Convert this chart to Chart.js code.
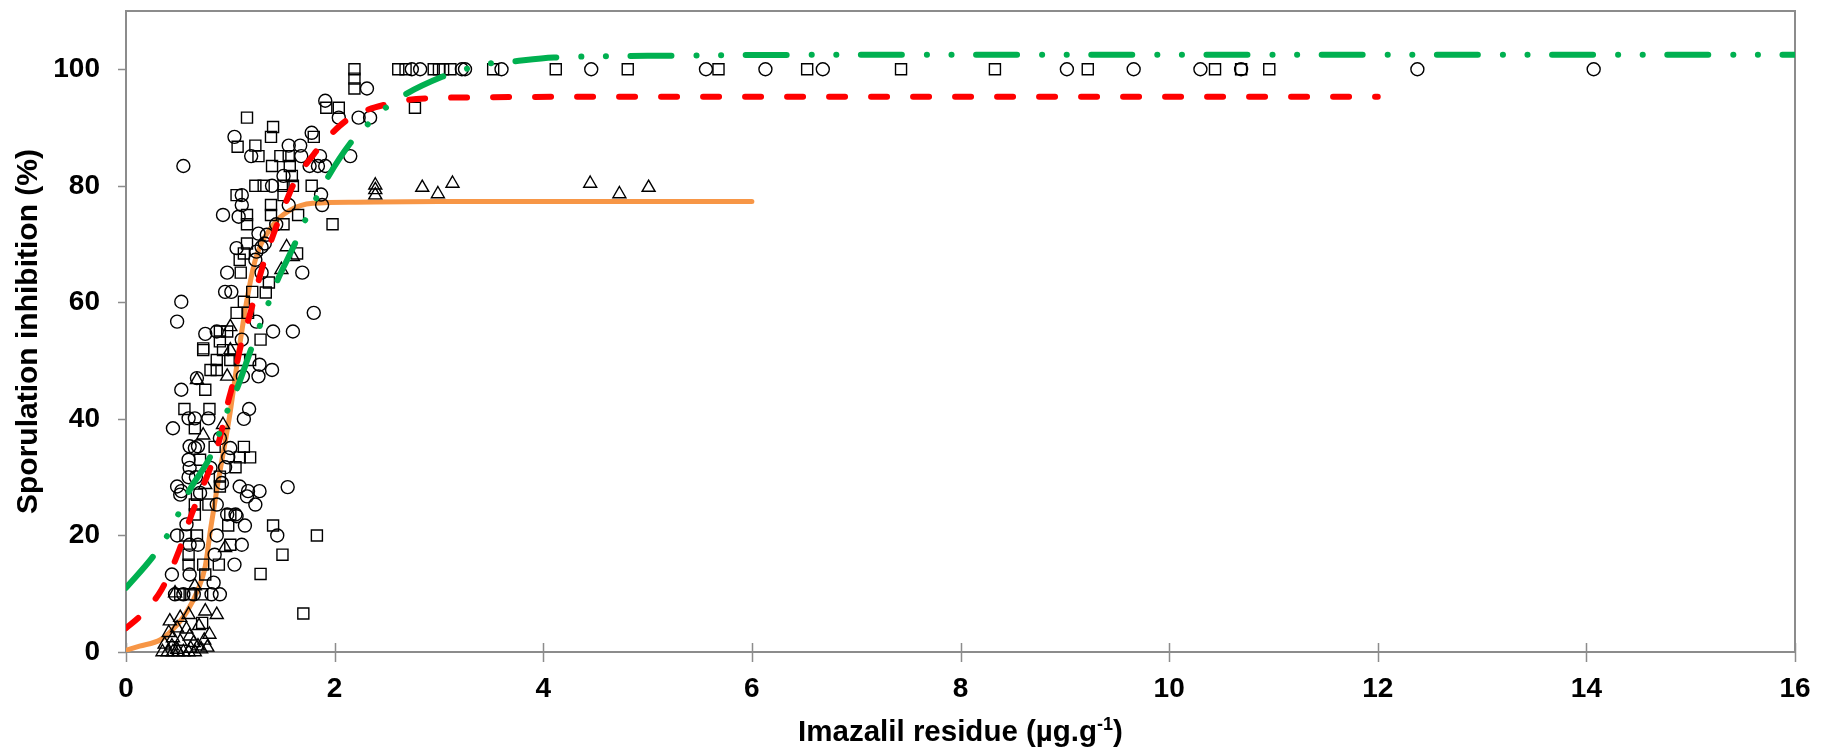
<!DOCTYPE html>
<html>
<head>
<meta charset="utf-8">
<script src="https://cdn.jsdelivr.net/npm/chart.js@4.4.1/dist/chart.umd.min.js"></script>
<style>
  html, body { margin: 0; padding: 0; background: #fff; }
  canvas { display: block; }
</style>
</head>
<body>
<canvas id="chart" width="1822" height="747"></canvas>
<script>
// observed points, [imazalil residue, sporulation inhibition]
const circlePoints = [
  [2.74, 100], [2.82, 100], [3.22, 100], [3.25, 100], [3.60, 100], [4.46, 100], [5.56, 100], [6.13, 100],
  [6.68, 100], [9.02, 100], [9.66, 100], [10.30, 100], [10.69, 100], [12.38, 100], [14.07, 100],
  [2.31, 96.7], [1.91, 94.6], [2.04, 91.7], [2.23, 91.7], [2.34, 91.7],
  [0.55, 83.4], [1.04, 88.4], [1.20, 85.1], [1.56, 86.9], [1.67, 86.9], [1.78, 89.1], [1.68, 85.1], [1.86, 85.1],
  [1.76, 83.4], [1.84, 83.4], [1.91, 83.4], [2.15, 85.1], [1.51, 81.7], [1.40, 80.0], [1.87, 78.5], [1.11, 78.4],
  [0.93, 75.0], [1.08, 74.7], [1.11, 76.7], [1.56, 76.7], [1.88, 76.7], [1.44, 73.4], [1.27, 71.8], [1.35, 71.6],
  [1.33, 70.1], [1.30, 69.5], [1.25, 68.7], [1.06, 69.3], [1.24, 67.3], [0.97, 65.1], [1.30, 65.1], [1.69, 65.1],
  [0.95, 61.8], [1.01, 61.8], [0.53, 60.1], [1.80, 58.2], [0.49, 56.7], [1.25, 56.7], [0.76, 54.6], [0.87, 55.0],
  [1.41, 55.0], [1.60, 55.0], [1.11, 53.6],
  [1.28, 49.3], [1.40, 48.4], [1.27, 47.3], [1.12, 47.3], [0.68, 47.0], [0.53, 45.0], [0.60, 40.1], [0.66, 40.1],
  [0.79, 40.1], [1.18, 41.7], [1.13, 40.0], [0.45, 38.4], [0.90, 36.7], [0.61, 35.3], [0.66, 35.0], [0.69, 35.3],
  [1.00, 35.0], [0.98, 33.4], [0.60, 33.0], [0.61, 31.6], [0.95, 31.7], [0.81, 31.6], [0.60, 30.0], [0.67, 30.0],
  [0.49, 28.4], [0.53, 27.6], [1.09, 28.4], [1.17, 27.6], [1.28, 27.6], [1.55, 28.3], [0.92, 29.0],
  [0.52, 27.0], [0.71, 27.3], [1.16, 26.7], [1.24, 25.3], [0.87, 25.3], [0.97, 23.6], [1.05, 23.6], [1.06, 23.3],
  [0.58, 21.9], [1.14, 21.7], [1.45, 20.0], [0.49, 20.0], [0.87, 20.0], [0.69, 18.4], [0.61, 18.4], [1.11, 18.4],
  [0.85, 16.7], [1.04, 15.0], [0.44, 13.3], [0.61, 13.3], [0.84, 11.9], [0.47, 9.9], [0.55, 9.9], [0.65, 9.9],
  [0.82, 9.9], [0.90, 9.9],
];

const squarePoints = [
  [2.19, 100], [2.61, 100], [2.68, 100], [2.95, 100], [3.00, 100], [3.04, 100], [3.11, 100], [3.52, 100],
  [4.12, 100], [4.81, 100], [5.68, 100], [6.53, 100], [7.43, 100], [8.33, 100], [9.22, 100], [10.44, 100],
  [10.69, 100], [10.96, 100],
  [2.19, 98.4], [2.19, 96.7], [1.92, 93.4], [2.04, 93.4], [2.77, 93.4],
  [1.16, 91.7], [1.41, 90.1], [1.39, 88.4], [1.07, 86.7], [1.24, 86.9], [1.27, 85.1], [1.80, 88.4], [1.48, 85.1],
  [1.56, 85.1], [1.40, 83.4], [1.57, 83.4], [1.59, 81.7], [1.24, 80.0], [1.32, 80.0], [1.51, 80.0], [1.60, 80.0],
  [1.78, 80.0], [1.06, 78.4], [1.51, 78.4],
  [1.16, 75.0], [1.16, 73.4], [1.39, 76.7], [1.39, 75.0], [1.65, 75.0], [1.98, 73.4], [1.51, 73.4], [1.16, 70.1],
  [1.13, 68.4], [1.09, 67.3], [1.64, 68.4], [1.10, 65.1], [1.37, 63.4], [1.21, 61.8], [1.34, 61.7], [1.13, 60.1],
  [1.06, 58.2], [1.17, 58.2], [0.90, 55.0], [0.97, 55.0], [1.29, 53.6], [0.74, 52.1], [0.90, 53.3],
  [0.74, 51.8], [0.93, 51.8], [1.03, 51.8], [0.87, 50.1], [1.00, 50.1], [1.09, 50.1], [1.19, 50.1], [0.81, 48.4],
  [0.87, 48.4], [0.76, 45.0], [0.56, 41.7], [0.80, 41.7], [0.66, 38.4], [0.85, 35.2], [1.13, 35.2], [1.09, 33.4],
  [1.19, 33.4], [0.71, 33.0], [1.05, 31.7], [0.90, 30.1], [0.90, 28.4],
  [0.68, 27.0], [0.66, 25.3], [0.79, 25.3], [0.66, 23.6], [1.00, 23.6], [0.98, 21.7], [1.41, 21.7], [1.83, 20.0],
  [1.50, 16.7], [1.29, 13.4], [1.70, 6.6], [0.57, 20.0], [0.68, 20.0], [1.00, 18.4], [0.60, 16.7], [0.60, 15.0],
  [0.74, 15.0], [0.89, 15.0], [0.76, 13.3], [0.52, 9.9], [0.61, 9.9], [0.73, 9.9], [0.73, 5.0],
];

const trianglePoints = [
  [2.39, 80.1], [2.39, 79.3], [2.39, 78.4], [2.84, 79.7], [2.99, 78.6], [3.13, 80.4], [4.45, 80.4], [4.73, 78.6],
  [5.01, 79.7],
  [1.54, 69.5], [1.60, 67.8], [1.49, 65.6], [1.00, 55.8], [1.00, 51.8], [0.97, 47.3], [0.68, 46.7], [0.93, 39.0],
  [0.74, 37.2], [0.76, 28.7], [0.95, 17.9], [0.47, 10.1], [0.66, 11.3], [0.42, 5.3], [0.52, 5.9], [0.60, 6.4],
  [0.76, 7.0], [0.87, 6.4], [0.37, 1.3], [0.44, 1.0], [0.49, 0.4], [0.55, 0.0], [0.65, 1.6], [0.69, 1.0],
  [0.66, 0.0], [0.61, 2.7], [0.45, 2.4], [0.41, 3.3], [0.58, 3.9], [0.49, 4.1], [0.40, 0.0], [0.45, 0.0],
  [0.50, 0.0], [0.60, 0.0], [0.72, 0.5], [0.75, 2.0], [0.70, 4.5], [0.80, 3.0], [0.35, 0.0], [0.52, 1.8],
  [0.62, 0.6], [0.78, 0.8],
];

// fitted curves
const orangeCurve = [
  [0, 0.3], [0.13, 1.0], [0.33, 2.1], [0.45, 3.9], [0.58, 6.8], [0.69, 10.7], [0.76, 14.7], [0.81, 21.0],
  [0.87, 27.8], [1.0, 41.3], [1.05, 47.6], [1.09, 52.7], [1.16, 60.5], [1.24, 67.3], [1.41, 73.3], [1.57, 75.8],
  [1.79, 77.0], [2.2, 77.2], [3, 77.3], [6, 77.3],
];

const redCurve = [
  [0, 4.1], [0.15, 6.4], [0.34, 10.7], [0.5, 17.0], [0.61, 22.7], [0.71, 27.3], [0.81, 31.7], [0.9, 36.7],
  [0.98, 43.0], [1.03, 46.4], [1.09, 51.8], [1.2, 58.7], [1.3, 65.6], [1.44, 73.0], [1.54, 77.5], [1.61, 80.4],
  [1.83, 86.1], [1.99, 89.3], [2.12, 91.3], [2.31, 93.0], [2.5, 94.0], [2.69, 94.7], [2.88, 95.0], [3.5, 95.2],
  [5, 95.3], [12, 95.3],
];

const greenCurve = [
  [0, 11.0], [0.26, 16.4], [0.39, 19.8], [0.5, 23.6], [0.61, 27.8], [0.81, 33.6], [0.89, 37.3], [0.97, 41.3],
  [1.06, 45.0], [1.2, 52.0], [1.36, 59.6], [1.44, 63.3], [1.62, 70.1], [1.71, 73.8], [1.92, 81.0], [2.15, 87.3],
  [2.31, 90.4], [2.47, 93.1], [2.66, 95.5], [3.03, 98.7], [3.23, 99.9], [3.45, 100.9], [3.68, 101.3], [4.1, 102.0],
  [5, 102.3], [8, 102.5], [16, 102.5],
];

const xTicks = [0, 2, 4, 6, 8, 10, 12, 14, 16];
const yTicks = [0, 20, 40, 60, 80, 100];

const FONT = "'Liberation Sans', Arial, sans-serif";
const AXIS_GREY = '#8c8c8c';

const toXY = (pts) => pts.map(([x, y]) => ({ x, y }));

const markerSet = (pts, style, radius, order) => ({
  data: toXY(pts),
  pointStyle: style,
  pointRadius: radius,
  pointBorderWidth: 1.4,
  pointBorderColor: '#000',
  pointBackgroundColor: 'rgba(0,0,0,0)',
  showLine: false,
  clip: false,
  order,
});

const curveSet = (pts, color, width, dash, order) => ({
  data: toXY(pts),
  showLine: true,
  pointRadius: 0,
  borderColor: color,
  borderWidth: width,
  borderDash: dash,
  borderCapStyle: 'round',
  cubicInterpolationMode: 'monotone',
  fill: false,
  order,
});

// plot frame, tick marks and the axis titles (x title has a superscript)
const frameAndTitles = {
  id: 'frameAndTitles',
  beforeDatasetsDraw(chart) {
    const { ctx, chartArea: a, scales } = chart;
    ctx.save();
    ctx.strokeStyle = AXIS_GREY;
    ctx.lineWidth = 2;
    ctx.strokeRect(a.left, a.top, a.right - a.left, a.bottom - a.top);
    ctx.lineWidth = 1.5;
    ctx.beginPath();
    xTicks.forEach((v) => {
      const px = Math.round(scales.x.getPixelForValue(v)) + 0.5;
      ctx.moveTo(px, a.bottom - 9);
      ctx.lineTo(px, a.bottom + 10);
    });
    yTicks.forEach((v) => {
      const py = Math.round(scales.y.getPixelForValue(v)) + 0.5;
      ctx.moveTo(a.left - 8, py);
      ctx.lineTo(a.left, py);
    });
    ctx.stroke();
    ctx.restore();
  },
  afterDraw(chart) {
    const { ctx, chartArea: a } = chart;
    ctx.save();
    ctx.fillStyle = '#000';

    // y title
    ctx.font = `bold 30px ${FONT}`;
    ctx.translate(29, (a.top + a.bottom) / 2);
    ctx.rotate(-Math.PI / 2);
    ctx.textAlign = 'center';
    ctx.textBaseline = 'middle';
    ctx.fillText('Sporulation inhibition (%)', 0, 0);
    ctx.setTransform(1, 0, 0, 1, 0, 0);

    // x title
    const main = 'Imazalil residue (µg.g';
    const sup = '-1';
    const tail = ')';
    ctx.textAlign = 'left';
    ctx.textBaseline = 'alphabetic';
    ctx.font = `bold 29.5px ${FONT}`;
    const w1 = ctx.measureText(main).width;
    const w3 = ctx.measureText(tail).width;
    ctx.font = `bold 18px ${FONT}`;
    const w2 = ctx.measureText(sup).width;
    const baseY = 741;
    let x = (a.left + a.right) / 2 - (w1 + w2 + w3) / 2;
    ctx.font = `bold 29.5px ${FONT}`;
    ctx.fillText(main, x, baseY);
    x += w1;
    ctx.font = `bold 18px ${FONT}`;
    ctx.fillText(sup, x, baseY - 11);
    x += w2;
    ctx.font = `bold 29.5px ${FONT}`;
    ctx.fillText(tail, x, baseY);
    ctx.restore();
  },
};

new Chart(document.getElementById('chart'), {
  type: 'scatter',
  data: {
    datasets: [
      curveSet(orangeCurve, '#F79646', 5, [], 5),
      markerSet(circlePoints, 'circle', 6.5, 4),
      markerSet(squarePoints, 'rect', 7.8, 3),
      markerSet(trianglePoints, 'triangle', 7.5, 2),
      curveSet(redCurve, '#FF0000', 6, [16, 26], 1),
      curveSet(greenCurve, '#00B050', 6, [41, 25, 0.1, 24.5, 0.1, 24.5], 0),
    ],
  },
  options: {
    responsive: false,
    devicePixelRatio: 1,
    animation: false,
    layout: { padding: { top: 11, right: 27, left: 0, bottom: 0 } },
    plugins: { legend: { display: false }, tooltip: { enabled: false } },
    scales: {
      x: {
        type: 'linear',
        min: 0,
        max: 16,
        afterFit: (scale) => {
          scale.height = 95;
          scale.paddingLeft = 0;
          scale.paddingRight = 0;
        },
        afterBuildTicks: (scale) => { scale.ticks = xTicks.map((v) => ({ value: v })); },
        grid: { display: false, drawTicks: false, tickLength: 0 },
        border: { display: false },
        ticks: {
          padding: 20,
          maxRotation: 0,
          color: '#000',
          font: { family: FONT, size: 28, weight: 'bold' },
        },
      },
      y: {
        type: 'linear',
        min: 0,
        max: 110,
        afterFit: (scale) => {
          scale.width = 126;
          scale.paddingTop = 0;
          scale.paddingBottom = 0;
        },
        afterBuildTicks: (scale) => { scale.ticks = yTicks.map((v) => ({ value: v })); },
        grid: { display: false, drawTicks: false, tickLength: 0 },
        border: { display: false },
        ticks: {
          padding: 26,
          color: '#000',
          font: { family: FONT, size: 28, weight: 'bold' },
        },
      },
    },
  },
  plugins: [frameAndTitles],
});
</script>
</body>
</html>
